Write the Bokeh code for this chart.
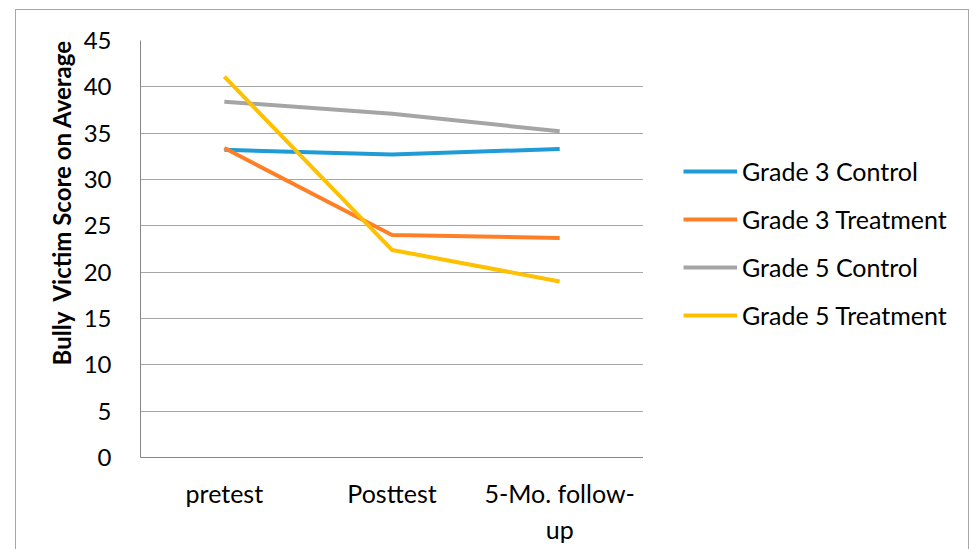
from bokeh.plotting import figure
from bokeh.layouts import row
from bokeh.models import (FactorRange, Range1d, SingleIntervalTicker, Legend, LegendItem,
                          ColumnDataSource, InlineStyleSheet)
from bokeh.embed import file_html
from bokeh.resources import INLINE

categories = ["pretest", "Posttest", "5-Mo. follow-\nup"]
series_names = ["Grade 3 Control", "Grade 3 Treatment", "Grade 5 Control", "Grade 5 Treatment"]
grade3_control = [33.2, 32.7, 33.3]
grade3_treatment = [33.4, 24.0, 23.7]
grade5_control = [38.4, 37.1, 35.2]
grade5_treatment = [41.1, 22.4, 19.0]
colors = ["#1F9BD7", "#FF7F27", "#A5A5A5", "#FFC000"]
y_ticks_interval = 5
y_title = "Bully\u00a0 Victim Score on Average"

FONT = "Lato"
BORDER = "1px solid #A6A6A6"

p = figure(width=643, height=549, output_backend="svg", toolbar_location=None,
           x_range=FactorRange(factors=categories, range_padding=0),
           y_range=Range1d(0, 45),
           min_border_left=140, min_border_right=0, min_border_top=40, min_border_bottom=92)
p.outline_line_color = None
p.background_fill_color = "white"
p.border_fill_color = "white"
p.stylesheets = [InlineStyleSheet(css=(
    ":host { position: relative; }"
    ":host::after { content: ''; position: absolute; left: 15px; top: 9px; right: 0px; bottom: 0px;"
    f" border-left: {BORDER}; border-top: {BORDER}; pointer-events: none; z-index: 5; }}"))]

p.xgrid.grid_line_color = None
p.ygrid.grid_line_color = "#A6A6A6"
p.ygrid.grid_line_width = 1
p.yaxis.ticker = SingleIntervalTicker(interval=y_ticks_interval)

for ax in (p.xaxis, p.yaxis):
    ax.axis_line_color = "#868686"
    ax.axis_line_width = 1
    ax.major_tick_line_color = None
    ax.minor_tick_line_color = None
    ax.major_tick_out = 0
    ax.major_tick_in = 0
    ax.major_label_text_font = FONT
    ax.major_label_text_font_size = "24px"
    ax.major_label_text_color = "#000000"

p.xaxis.major_label_text_font_size = "25px"
p.yaxis.major_label_standoff = 25
p.xaxis.major_label_standoff = 20
# leading no-break spaces lift the centred title towards the top, as in the reference
p.yaxis.axis_label = "\u00a0" * 16 + y_title
p.yaxis.axis_label_text_font = FONT
p.yaxis.axis_label_text_font_style = "bold"
p.yaxis.axis_label_text_font_size = "24px"
p.yaxis.axis_label_text_color = "#000000"
p.yaxis.axis_label_standoff = 5

data = [grade3_control, grade3_treatment, grade5_control, grade5_treatment]
for name, vals, c in zip(series_names, data, colors):
    src = ColumnDataSource(dict(x=categories, y=vals))
    p.line("x", "y", source=src, line_color=c, line_width=4)

# legend panel (a second canvas to the right of the chart)
pl = figure(width=326, height=549, output_backend="svg", toolbar_location=None,
            x_range=Range1d(0, 1), y_range=Range1d(0, 1),
            min_border_left=0, min_border_right=0, min_border_top=0, min_border_bottom=0)
pl.axis.visible = False
pl.grid.visible = False
pl.outline_line_color = None
pl.background_fill_color = "white"
pl.border_fill_color = "white"
pl.stylesheets = [InlineStyleSheet(css=(
    ":host { position: relative; }"
    ":host::after { content: ''; position: absolute; left: 0px; top: 9px; right: 0px; bottom: 0px;"
    f" border-top: {BORDER}; border-right: {BORDER}; pointer-events: none; z-index: 5; }}"))]

nan = float("nan")
items = []
for name, c in zip(series_names, colors):
    r = pl.line(x=[nan], y=[nan], line_color=c, line_width=4)
    items.append(LegendItem(label=name, renderers=[r]))

legend = Legend(items=items, location=(40, 127), orientation="vertical",
                glyph_width=54, glyph_height=30, label_height=30, label_standoff=5,
                spacing=18, padding=0, margin=0, border_line_color=None,
                background_fill_alpha=0,
                label_text_font=FONT, label_text_font_size="25px", label_text_color="#000000")
pl.add_layout(legend)

layout = row(p, pl, spacing=0)
open("out.html", "w").write(file_html(layout, INLINE))
